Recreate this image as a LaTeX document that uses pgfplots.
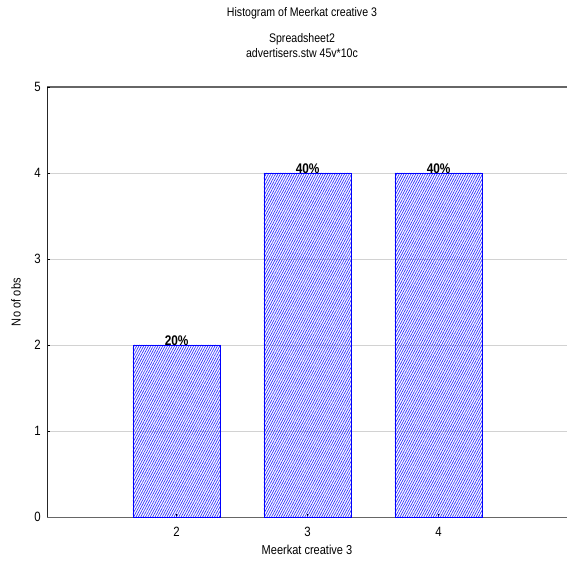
\documentclass[border=0pt]{standalone}
\usepackage{fontspec}
\setmainfont{Liberation Sans}[FakeStretch=0.85]
\usepackage{pgfplots}
\pgfplotsset{compat=1.18}
\usepackage{pgfplotstable}
\usetikzlibrary{patterns.meta}
\pgfplotstableread{
x y lab
2 2 20\%
3 4 40\%
4 4 40\%
}\hist
\begin{document}
\fontsize{12.5}{15}\selectfont
\begin{tikzpicture}
\path[use as bounding box] (-47bp,-50bp) rectangle (521bp,517bp);
\begin{axis}[
  at={(0,0)}, anchor=south west,
  scale only axis, width=520bp, height=430bp,
  xmin=1.01, xmax=4.98, ymin=0, ymax=5,
  axis x line=bottom, axis y line=left,
  axis line style={-, line width=0.9pt},
  x axis line style={draw=gray!80!black},
  y axis line style={draw=black!85},
  xtick={2,3,4}, ytick={0,1,2,3,4},
  extra y ticks={5},
  extra y tick style={grid style={draw=gray!80!black, line width=1.2pt}},
  ymajorgrids, grid style={draw=gray!35, line width=0.6pt},
  tick align=inside, major tick length=3bp,
  tick style={black, line width=0.5pt},
  /pgf/number format/assume math mode=true,
  tick label style={font=\fontsize{13.5}{15}\selectfont},
  label style={font=\fontsize{13}{15}\selectfont},
  xlabel={Meerkat creative 3},
  xlabel style={at={(axis description cs:0.5,0)}, anchor=north, yshift=-24bp},
  ylabel style={at={(axis description cs:0,0.5)}, anchor=south, xshift=0bp, yshift=22bp},
  ylabel={N\kern0.5pt o of o\kern0.5pt b\kern0.5pt s},
  yticklabel style={xshift=-2bp},
  xticklabel style={yshift=-6bp},
  clip=false,
]
\addplot[ybar, bar width=0.667, draw=blue, line width=0.8pt,
  pattern={Lines[angle=62, distance=2.1bp, line width=0.7bp]}, pattern color=blue!80,
  nodes near coords, point meta=explicit symbolic,
  every node near coord/.style={font=\fontsize{14}{15}\selectfont\bfseries, inner sep=0pt, anchor=south, yshift=-1bp}]
  table[x=x, y=y, meta=lab] {\hist};
\end{axis}
\node[font=\fontsize{12.5}{15}\selectfont] at (255bp,504bp) {Histogram of Meerkat creative 3};
\node[font=\fontsize{12.5}{15}\selectfont] at (255bp,478bp) {Spreadsheet2};
\node[font=\fontsize{12.5}{15}\selectfont] at (255bp,464bp) {advertisers.stw 45v*10c};
\end{tikzpicture}
\end{document}
